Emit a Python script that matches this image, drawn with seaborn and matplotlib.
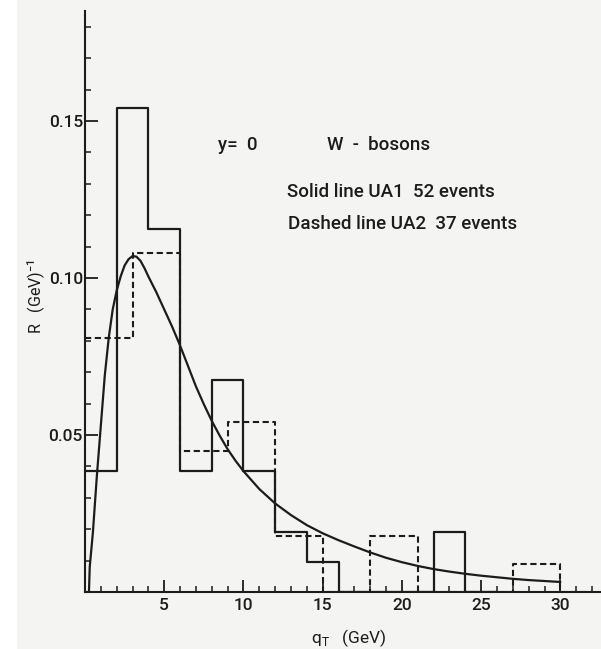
import numpy as np
import pandas as pd
import seaborn as sns
import matplotlib
matplotlib.use("Agg")
import matplotlib.pyplot as plt
from matplotlib.ticker import MultipleLocator
from matplotlib.patches import Rectangle

# ---- data ----
# UA1 (solid), 52 events, 2 GeV bins
ua1_edges = [0, 2, 4, 6, 8, 10, 12, 14, 16, 18, 20, 22, 24, 26]
ua1_values = [0.0385, 0.154, 0.1155, 0.0385, 0.0675, 0.0385, 0.0192, 0.0096,
              0.0, 0.0, 0.0, 0.0192, 0.0]
# UA2 (dashed), 37 events, 3 GeV bins
ua2_edges = [0, 3, 6, 9, 12, 15, 18, 21, 24, 27, 30, 32]
ua2_values = [0.081, 0.108, 0.045, 0.054, 0.018, 0.0, 0.018, 0.0, 0.0, 0.009, 0.0]
# theory curve
curve_q = [0.25, 0.3, 0.5, 0.75, 1.0, 1.25, 1.5, 1.75, 2.0, 2.25, 2.5, 2.75,
           3.0, 3.25, 3.5, 3.75, 4.0, 4.5, 5.0, 5.5, 6.0, 6.5, 7.0, 7.5, 8.0,
           8.5, 9.0, 9.5, 10.0, 11.0, 12.0, 13.0, 14.0, 15.0, 16.0, 17.0, 18.0,
           19.0, 20.0, 21.0, 22.0, 23.0, 24.0, 25.0, 26.0, 27.0, 28.0, 29.0, 30.0]
curve_R = [0.0, 0.008, 0.019, 0.037, 0.053, 0.069, 0.081, 0.090, 0.096, 0.1005,
           0.104, 0.106, 0.107, 0.1068, 0.1055, 0.1032, 0.1005, 0.0955, 0.090,
           0.0845, 0.0785, 0.072, 0.0655, 0.0598, 0.0545, 0.0498, 0.0455, 0.0418,
           0.0385, 0.0328, 0.0282, 0.0245, 0.0213, 0.0187, 0.0165, 0.0145, 0.0126,
           0.0109, 0.0095, 0.0083, 0.0073, 0.0065, 0.0058, 0.0052, 0.0047, 0.0042,
           0.0038, 0.0035, 0.0032]
x_ticks = [5, 10, 15, 20, 25, 30]
y_ticks = [0.05, 0.10, 0.15]
y_tick_labels = ["0.05", "0.10", "0.15"]

sns.set_theme(style="white")
FONT = ["Roboto", "DejaVu Sans"]
plt.rcParams["font.family"] = FONT
plt.rcParams["font.weight"] = "medium"
plt.rcParams["mathtext.fontset"] = "custom"
plt.rcParams["mathtext.rm"] = "Roboto:medium"

INK = "#1c1c1c"
BG = "#f4f4f2"

fig = plt.figure(figsize=(6.01, 6.49), dpi=100, facecolor=BG)
fig.patches.append(Rectangle((0, 0), 17 / 601, 1, transform=fig.transFigure,
                             facecolor="white", edgecolor="none", zorder=0))
ax = fig.add_axes([0.1414, 0.0878, 0.857, 0.895])
ax.set_facecolor("none")

def centers(edges):
    e = np.asarray(edges, dtype=float)
    return (e[:-1] + e[1:]) / 2

sns.histplot(x=centers(ua1_edges), weights=ua1_values, bins=ua1_edges,
             element="step", fill=False, color=INK, linewidth=1.6, ax=ax)
sns.histplot(x=centers(ua2_edges), weights=ua2_values, bins=ua2_edges,
             element="step", fill=False, color=INK, linewidth=1.5,
             linestyle=(0, (3.0, 1.7)), ax=ax)
sns.lineplot(x=curve_q, y=curve_R, color=INK, linewidth=1.6, ax=ax)

ax.set_xlim(0, 32.5)
ax.set_ylim(0, 0.185)
for s in ["top", "right"]:
    ax.spines[s].set_visible(False)
for s in ["left", "bottom"]:
    ax.spines[s].set_color(INK)
    ax.spines[s].set_linewidth(1.5)

ax.set_xticks(x_ticks)
ax.set_xticklabels([str(t) for t in x_ticks])
ax.xaxis.set_minor_locator(MultipleLocator(1))
ax.set_yticks(y_ticks)
ax.set_yticklabels(y_tick_labels)
ax.yaxis.set_minor_locator(MultipleLocator(0.01))
ax.tick_params(axis="both", which="major", direction="in", length=9, width=1.3,
               color=INK, labelsize=12.5, labelcolor=INK, pad=1.5)
ax.tick_params(axis="x", which="major", pad=4)
ax.tick_params(axis="both", which="minor", direction="in", length=4.5, width=1.1,
               color=INK)
ax.tick_params(axis="y", which="both", left=True)
ax.tick_params(axis="x", which="both", bottom=True)

ax.set_xlabel("q$_\\mathregular{T}$   (GeV)", fontsize=12.5, color=INK)
ax.xaxis.set_label_coords(0.513, -0.060)
ax.set_ylabel("R   (GeV)$^{-1}$", fontsize=11.5, color=INK)
ax.yaxis.set_label_coords(-0.072, 0.508)

tkw = dict(transform=ax.transAxes, fontsize=13.5, color=INK, va="center", ha="left")
ax.text(0.258, 0.769, "y=  0", **tkw)
ax.text(0.470, 0.769, "W  -  bosons", **tkw)
ax.text(0.392, 0.688, "Solid line UA1  52 events", **tkw)
ax.text(0.394, 0.633, "Dashed line UA2  37 events", **tkw)

fig.savefig("out.png", dpi=100, facecolor=BG)
